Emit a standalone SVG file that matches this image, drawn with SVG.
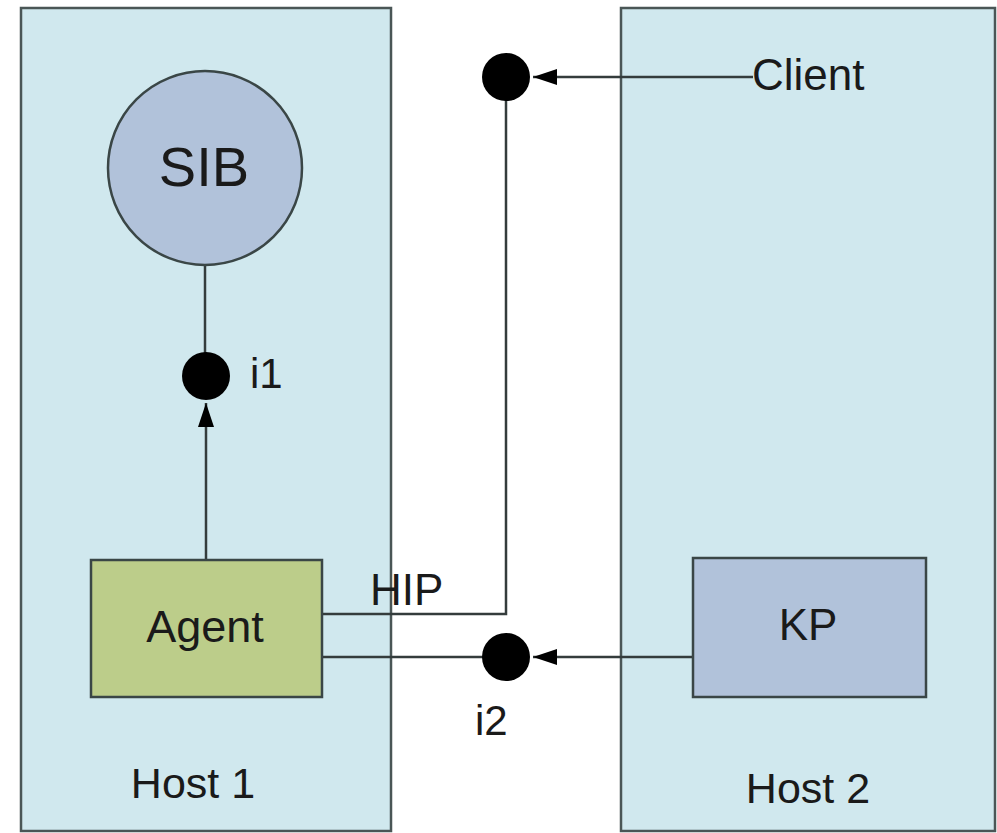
<svg xmlns="http://www.w3.org/2000/svg" width="997" height="833" viewBox="0 0 997 833">
  <style>
    .host { fill: #d0e8ee; stroke: #4a5656; stroke-width: 2.5; }
    .box { stroke: #3a4646; stroke-width: 2.5; }
    .lavender { fill: #b1c2da; }
    .olive { fill: #bccd8a; }
    .dot { fill: #000; }
    .wire { fill: none; stroke: #343c3c; stroke-width: 2.5; }
    .label { font-family: "Liberation Sans", Arial, sans-serif; fill: #1a1a1a; }
  </style>
  <defs>
    <!-- solid triangular head, 24 long x 16 wide, tip on the path end -->
    <marker id="tri" viewBox="0 0 24 16" refX="24" refY="8" markerWidth="24" markerHeight="16" markerUnits="userSpaceOnUse" orient="auto">
      <path d="M0,0 L24,8 L0,16 Z" fill="#000"/>
    </marker>
  </defs>

  <rect width="997" height="833" fill="#ffffff"/>

  <!-- hosts -->
  <g id="host1">
    <rect class="host" x="21" y="8" width="370" height="823"/>
    <text class="label" x="193" y="798" font-size="43" text-anchor="middle">Host 1</text>
  </g>
  <g id="host2">
    <rect class="host" x="621" y="8" width="374" height="823"/>
    <text class="label" x="808" y="803" font-size="43" text-anchor="middle">Host 2</text>
  </g>

  <!-- connectors -->
  <g id="connectors">
    <line class="wire" x1="205" y1="265" x2="205" y2="377"/>
    <path class="wire" d="M206,560 V403" marker-end="url(#tri)"/>
    <path class="wire" d="M322,614 H506 V77"/>
    <path class="wire" d="M753,77 H533" marker-end="url(#tri)"/>
    <path class="wire" d="M316,657 H506"/>
    <path class="wire" d="M693,657 H533" marker-end="url(#tri)"/>
  </g>

  <g id="sib">
    <circle class="box lavender" cx="205" cy="168" r="97"/>
    <text class="label" x="204" y="186" font-size="56" text-anchor="middle">SIB</text>
  </g>

  <g id="i1">
    <circle class="dot" cx="206" cy="376" r="24"/>
    <text class="label" x="250" y="388" font-size="42">i1</text>
  </g>

  <g id="agent">
    <rect class="box olive" x="91" y="560" width="231" height="137"/>
    <text class="label" x="205" y="642" font-size="45" text-anchor="middle">Agent</text>
  </g>

  <g id="hip">
    <text class="label" x="370" y="605" font-size="44">HIP</text>
  </g>

  <g id="client">
    <circle class="dot" cx="506" cy="77" r="24"/>
    <text class="label" x="752" y="90" font-size="44">Client</text>
  </g>

  <g id="i2">
    <circle class="dot" cx="506" cy="657" r="24"/>
    <text class="label" x="475" y="735" font-size="42">i2</text>
  </g>

  <g id="kp">
    <rect class="box lavender" x="693" y="558" width="233" height="139"/>
    <text class="label" x="808" y="640" font-size="44" text-anchor="middle">KP</text>
  </g>
</svg>
